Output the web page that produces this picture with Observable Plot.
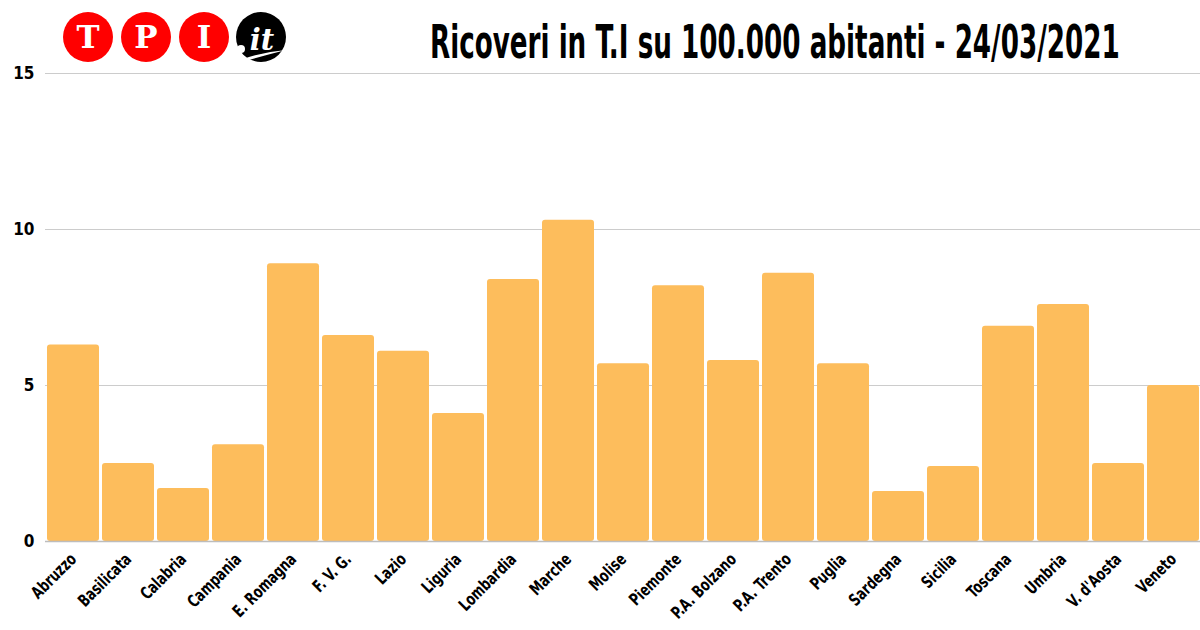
<!DOCTYPE html>
<html><head><meta charset="utf-8">
<script src="https://cdn.jsdelivr.net/npm/d3@7"></script>
<script src="https://cdn.jsdelivr.net/npm/@observablehq/plot@0.6"></script>
<style>
body{margin:0;background:#fff;}
#wrap{position:relative;width:1200px;height:630px;overflow:hidden;}
#header{position:absolute;left:0;top:0;}
#chart{position:absolute;left:0;top:0;}
</style></head><body>
<div id="wrap">
<div id="chart"></div>
<svg id="header" width="1200" height="70" xmlns="http://www.w3.org/2000/svg">
  <g font-family="'DejaVu Serif', 'Liberation Serif', serif" font-weight="bold" fill="#fff" text-anchor="middle">
    <circle cx="88" cy="37" r="25" fill="#ff0000"/>
    <text x="88" y="48" font-size="31">T</text>
    <circle cx="146" cy="37" r="25" fill="#ff0000"/>
    <text x="146" y="48" font-size="31">P</text>
    <circle cx="204" cy="37" r="25" fill="#ff0000"/>
    <text x="204" y="48" font-size="31">I</text>
    <circle cx="261" cy="37" r="25" fill="#000"/>
    <circle cx="241" cy="49" r="4" fill="#fff"/>
    <text x="262" y="50" font-size="29" font-style="italic">it</text>
    <path d="M240,60 Q262,52 286,50 Q262,56 242,62 Z" fill="#fff"/>
  </g>
  <text id="title" font-size="47" font-weight="bold"
        font-family="'Liberation Sans Narrow', 'DejaVu Sans Condensed', sans-serif" fill="#000">Ricoveri in T.I su 100.000 abitanti - 24/03/2021</text>
</svg>
</div>
<script>
const regions = ["Abruzzo","Basilicata","Calabria","Campania","E. Romagna","F. V. G.","Lazio","Liguria","Lombardia","Marche","Molise","Piemonte","P.A. Bolzano","P.A. Trento","Puglia","Sardegna","Sicilia","Toscana","Umbria","V. d'Aosta","Veneto"];
const values = [6.3,2.5,1.7,3.1,8.9,6.6,6.1,4.1,8.4,10.3,5.7,8.2,5.8,8.6,5.7,1.6,2.4,6.9,7.6,2.5,5.0];
const yTicks = [0,5,10,15];
const data = regions.map((r,i)=>({region:r, value:values[i]}));
const font = "'Liberation Sans Narrow', 'DejaVu Sans Condensed', sans-serif";

// condense the title horizontally to the reference width
const title = document.getElementById("title");
const w = title.getComputedTextLength();
title.setAttribute("transform", `translate(430,57.5) scale(${690 / w},1)`);

const chart = Plot.plot({
  width:1200, height:630, marginTop:73, marginBottom:89, marginLeft:45, marginRight:0,
  style:{fontFamily:font, fontWeight:"bold", color:"#000", background:"transparent"},
  x:{domain:regions, paddingInner:0.055, paddingOuter:0, label:null},
  y:{domain:[0,15], label:null},
  marks:[
    Plot.gridY(yTicks.slice(1),{stroke:"#cccccc", strokeOpacity:1}),
    Plot.barY(data,{x:"region", y:"value", fill:"#FDBD5C", rx:3}),
    Plot.ruleY([0],{stroke:"#bdbdbd", strokeWidth:1.5}),
    Plot.axisY(yTicks,{tickSize:0, tickPadding:11, fontSize:17, fontWeight:"bold", fill:"#000", label:null}),
    Plot.axisX({tickSize:0, tickRotate:-45, tickPadding:15, fontSize:17, fontWeight:"bold", fill:"#000", label:null})
  ]
});
document.getElementById("chart").appendChild(chart);
// condense the rotated x tick labels along their reading direction
d3.select(chart).selectAll('g[aria-label="x-axis tick label"] text')
  .attr("transform", function(){ return (this.getAttribute("transform") || "") + " scale(0.8,1)"; });
</script>
</body></html>
